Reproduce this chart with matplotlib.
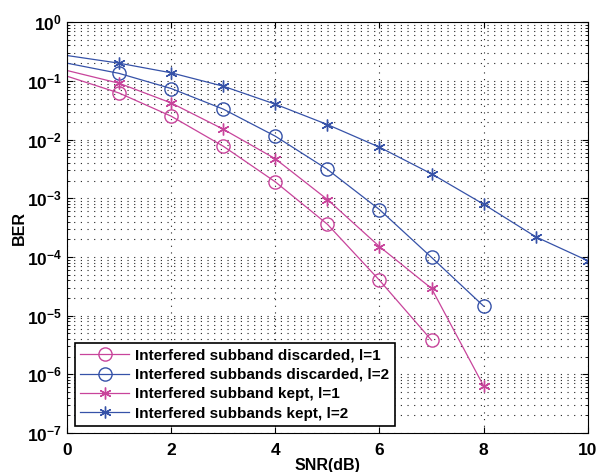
import numpy as np
import matplotlib
matplotlib.use("Agg")
import matplotlib.pyplot as plt
from matplotlib.ticker import LogLocator, NullFormatter

plt.rcParams['font.family'] = ['Liberation Sans', 'DejaVu Sans']
plt.rcParams['font.weight'] = 'bold'
plt.rcParams['mathtext.default'] = 'bf'

# SNR values (dB)
snr_disc_1 = [0, 1, 2, 3, 4, 5, 6, 7]
snr_disc_2 = [0, 1, 2, 3, 4, 5, 6, 7, 8]
snr_kept_1 = [0, 1, 2, 3, 4, 5, 6, 7, 8]
snr_kept_2 = [0, 1, 2, 3, 4, 5, 6, 7, 8, 9, 10]

# BER values
ber_disc_1 = [0.12, 0.062, 0.025, 7.7e-3, 1.9e-3, 3.6e-4, 4.0e-5, 3.8e-6]
ber_disc_2 = [0.20, 0.134, 0.074, 0.033, 0.0114, 3.1e-3, 6.4e-4, 9.8e-5, 1.45e-5]
ber_kept_1 = [0.15, 0.091, 0.042, 0.015, 4.7e-3, 9.5e-4, 1.5e-4, 2.9e-5, 6.3e-7]
ber_kept_2 = [0.27, 0.20, 0.137, 0.081, 0.040, 0.018, 7.4e-3, 2.6e-3, 7.9e-4, 2.2e-4, 8.6e-5]

labels = ["Interfered subband discarded, l=1",
          "Interfered subbands discarded, l=2",
          "Interfered subband kept, l=1",
          "Interfered subbands kept, l=2"]

pink = '#C8449B'
blue = '#3652A8'
star = (6, 2, 0)

fig = plt.figure(figsize=(5.98, 4.72), dpi=100)
ax = fig.add_axes([0.112, 0.0826, 0.871, 0.8705])

ax.plot(snr_disc_1, ber_disc_1, color=pink, lw=0.9, marker='o', ms=9.5,
        mfc='none', mew=1.0, markevery=slice(1, None), label=labels[0])
ax.plot(snr_disc_2, ber_disc_2, color=blue, lw=0.9, marker='o', ms=9.5,
        mfc='none', mew=1.0, markevery=slice(1, None), label=labels[1])
ax.plot(snr_kept_1, ber_kept_1, color=pink, lw=0.9, marker=star, ms=8.5,
        mew=1.0, markevery=slice(1, None), label=labels[2])
ax.plot(snr_kept_2, ber_kept_2, color=blue, lw=0.9, marker=star, ms=8.5,
        mew=1.0, markevery=slice(1, None), label=labels[3])

ax.set_yscale('log')
ax.set_xlim(0, 10)
ax.set_ylim(1e-7, 1)
ax.set_xticks([0, 2, 4, 6, 8, 10])
ax.yaxis.set_major_locator(LogLocator(base=10, numticks=10))
ax.yaxis.set_minor_locator(LogLocator(base=10, subs=np.arange(2, 10), numticks=20))
ax.yaxis.set_minor_formatter(NullFormatter())

ax.tick_params(which='both', direction='in', top=True, right=True, labelsize=12.5)
ax.tick_params(which='major', length=4)
ax.tick_params(which='minor', length=2.5)
ax.tick_params(axis='x', pad=7)
ax.tick_params(axis='y', pad=3.5)
for lab in ax.get_xticklabels() + ax.get_yticklabels():
    lab.set_fontweight('bold')

dots = (0, (1, 5))
ax.grid(which='major', axis='both', color='#222222', ls=dots, lw=0.8)
ax.grid(which='minor', axis='y', color='#222222', ls=dots, lw=0.8)

ax.set_xlabel("SNR(dB)", fontsize=11.5, fontweight='bold')
ax.xaxis.set_label_coords(0.5, -0.062)
ax.set_ylabel("BER", fontsize=11.5, fontweight='bold')
ax.yaxis.set_label_coords(-0.077, 0.5)

leg = ax.legend(loc='lower left', bbox_to_anchor=(0.015, 0.017), fontsize=11,
                frameon=True, fancybox=False, edgecolor='k', framealpha=1,
                handlelength=3.2, borderpad=0.35, labelspacing=0.35,
                handletextpad=0.4, borderaxespad=0.0)
leg.get_frame().set_linewidth(1.2)
for t in leg.get_texts():
    t.set_fontweight('bold')

fig.savefig("out.png", dpi=100)
